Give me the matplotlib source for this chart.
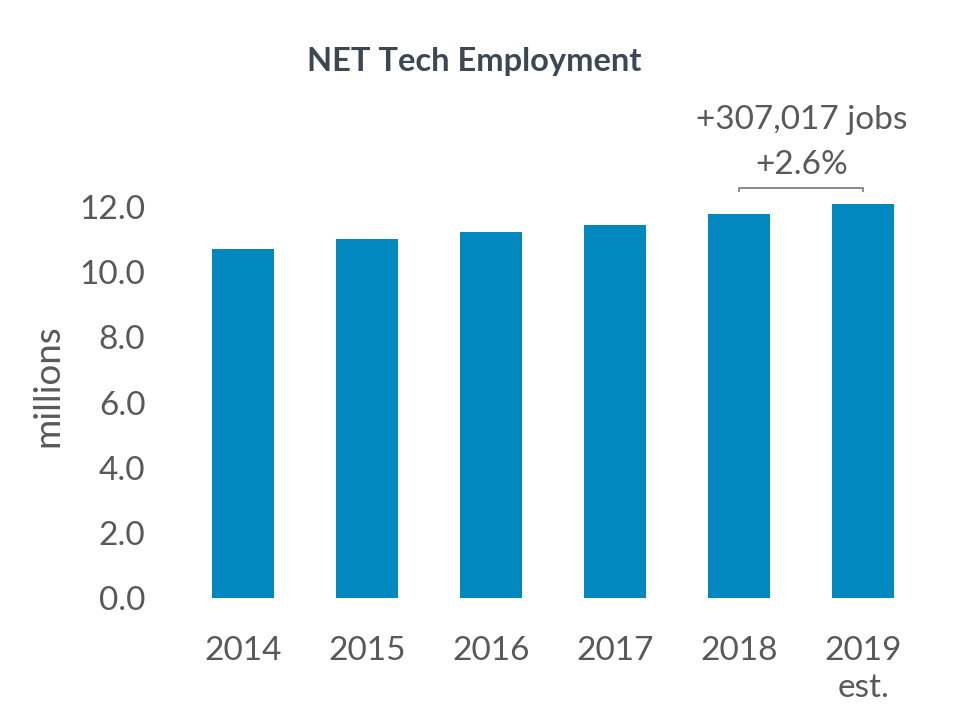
import matplotlib
matplotlib.use("Agg")
import matplotlib.pyplot as plt

years = ["2014", "2015", "2016", "2017", "2018", "2019\nest."]
employment = [10.71, 11.02, 11.23, 11.45, 11.79, 12.10]
yticks = [0, 2, 4, 6, 8, 10, 12]
title = "NET Tech Employment"
ann_jobs = "+307,017 jobs"
ann_pct = "+2.6%"

plt.rcParams['font.family'] = ['Lato', 'DejaVu Sans']
text_col = "#595959"
bar_col = "#0088BF"

fig = plt.figure(figsize=(9.6, 7.2), dpi=100)
ax = fig.add_axes([0.189, 0.1694, 0.775, 0.735 - 0.1694])
x = list(range(len(years)))
ax.bar(x, employment, width=0.5, color=bar_col, zorder=2)
ax.set_xlim(-0.5, 5.5)
ax.set_ylim(0, 12.5)
ax.set_yticks(yticks)
ax.set_yticklabels([f"{v:.1f}" for v in yticks])
ax.set_xticks(x)
ax.set_xticklabels(years, linespacing=1.33)
for s in ax.spines.values():
    s.set_visible(False)
ax.tick_params(axis='both', length=0, labelsize=24, labelcolor=text_col)
ax.tick_params(axis='y', pad=26)
ax.tick_params(axis='x', pad=27)
ax.set_ylabel("millions", fontsize=26.5, color=text_col)
ax.yaxis.set_label_coords(-0.158, 0.521)

fig.text(0.494, 0.915, title, ha='center', va='center', fontsize=23.5,
         fontweight='bold', color="#3B4753")

# annotation bracket between 2018 and 2019
yb = 12.6
ax.plot([4, 4, 5, 5], [yb - 0.12, yb, yb, yb - 0.12], color="#808080", lw=1.3,
        clip_on=False)
ax.text(4.5, 13.28, ann_pct, ha='center', va='center', fontsize=24,
        color=text_col, clip_on=False)
ax.text(4.5, 14.66, ann_jobs, ha='center', va='center', fontsize=24,
        color=text_col, clip_on=False)

fig.savefig("out.png", dpi=100)
